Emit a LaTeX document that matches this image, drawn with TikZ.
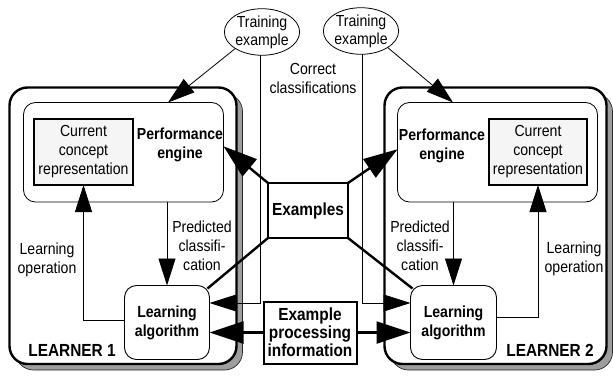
\documentclass[tikz,border=0pt]{standalone}
\usepackage{fontspec}
\setmainfont[FakeStretch=0.88]{Liberation Sans}
\usetikzlibrary{arrows.meta,shapes.geometric,calc}
\begin{document}
\begin{tikzpicture}[x=1pt,y=-1pt,
  every node/.style={inner sep=0pt,outer sep=0pt},
  txt/.style={align=center,font=\fontsize{16}{19}\selectfont},
  btxt/.style={align=center,font=\fontsize{16}{19}\selectfont\bfseries},
  bigb/.style={align=center,font=\fontsize{17.5}{18}\selectfont\bfseries},
  shadowbox/.style={fill=black!38,draw=black!85,line width=0.7pt,rounded corners=18pt},
  learner/.style={draw,fill=white,line width=2.4pt,rounded corners=18pt},
  engine/.style={draw,line width=0.8pt,rounded corners=12pt},
  concept/.style={draw,fill=black!4,line width=2pt,txt},
  algo/.style={draw,fill=white,line width=0.9pt,rounded corners=12pt,btxt},
  infobox/.style={draw,fill=white,line width=2pt,bigb},
  oval/.style={draw,ellipse,line width=0.8pt,align=center,font=\fontsize{16}{18}\selectfont},
  thin/.style={line width=0.8pt},
  thick/.style={line width=2.4pt},
  tipS/.style={-{Triangle[length=27pt,width=17pt]}},
  tipL/.style={-{Triangle[length=34pt,width=22pt]}},
]
\useasboundingbox (0,0) rectangle (613,375);

% learner frames with drop shadows
\node[shadowbox,minimum width=227pt,minimum height=276.5pt] (sh1) at (129,231.75) {};
\node[learner,minimum width=227pt,minimum height=276.5pt] (L1) at (123,225.75) {};
\node[shadowbox,minimum width=222pt,minimum height=276.5pt] (sh2) at (501.5,231.75) {};
\node[learner,minimum width=222pt,minimum height=276.5pt] (L2) at (495.5,225.75) {};

% performance engines
\node[engine,minimum width=200pt,minimum height=99.5pt] (eng1) at (123.5,152.25) {};
\node[engine,minimum width=200pt,minimum height=99.5pt] (eng2) at (497.5,152.25) {};
\node[btxt] (pe1) at (180,145) {Performance\\engine};
\node[btxt] (pe2) at (442,146) {Performance\\engine};

% concept representations
\node[concept,minimum width=99pt,minimum height=66pt] (cc1) at (83.5,152) {Current\\concept\\representation};
\node[concept,minimum width=97.5pt,minimum height=66pt] (cc2) at (538,152) {Current\\concept\\representation};

% learning algorithms
\node[algo,minimum width=85pt,minimum height=74pt] (la1) at (167,322.5) {Learning\\algorithm};
\node[algo,minimum width=86pt,minimum height=74pt] (la2) at (453.5,322.5) {Learning\\algorithm};

% shared boxes
\node[infobox,minimum width=80pt,minimum height=55pt] (ex) at (308,210.5) {Examples};
\node[infobox,minimum width=93pt,minimum height=62pt] (epi) at (310,332.5) {Example\\processing\\information};

% training examples
\node[oval,minimum width=70pt,minimum height=43pt] (te1) at (262,32) {Training\\example};
\node[oval,minimum width=71pt,minimum height=42pt] (te2) at (361,31) {Training\\example};

% labels
\node[txt] (lcc) at (313,78) {Correct\\classifications};
\node[txt] (lpc1) at (202,246) {Predicted\\classifi-\\cation};
\node[txt] (lpc2) at (420,246) {Predicted\\classifi-\\cation};
\node[txt] (llo1) at (47,260) {Learning\\operation};
\node[txt] (llo2) at (574,259) {Learning\\operation};
\node[bigb] (n1) at (72,350) {LEARNER 1};
\node[bigb] (n2) at (550,350) {LEARNER 2};

% bend points
\coordinate (x1) at (168,0);
\coordinate (x2) at (453,0);
\coordinate (c1) at (260,303);
\coordinate (c2) at (362,303);

% training example to performance engine
\draw[thin,tipS] (te1.south west) -- (eng1.north -| x1);
\draw[thin,tipS] (te2.south east) -- (eng2.north -| x2);

% correct classifications
\draw[thin,tipS] (te1.south -| c1) -- (c1) -- (c1 -| la1.east);
\draw[thin,tipS] (te2.south -| c2) -- (c2) -- (c2 -| la2.west);

% examples to engines and algorithms
\draw[thick,tipL] (ex.north west) -- ([yshift=6pt]eng1.east);
\draw[thick,tipL] (ex.north east) -- ([yshift=3pt]eng2.west);
\draw[thick] (ex.south west) -- ($(la1.north east)+(-2,3)$);
\draw[thick] (ex.south east) -- ($(la2.north west)+(2,3)$);

% example processing information exchange
\draw[thick,tipL] (epi.west) -- (epi.west -| la1.east);
\draw[thick,tipL] (epi.east) -- (epi.east -| la2.west);

% predicted classifications
\draw[thin,tipS] (la1.north |- eng1.south) -- (la1.north);
\draw[thin,tipS] (la2.north |- eng2.south) -- (la2.north);

% learning operations
\draw[thin,tipS] ([yshift=2pt]la1.west) -| (cc1.south);
\draw[thin,tipS] ([yshift=5pt]la2.east) -| (cc2.south);
\end{tikzpicture}
\end{document}
